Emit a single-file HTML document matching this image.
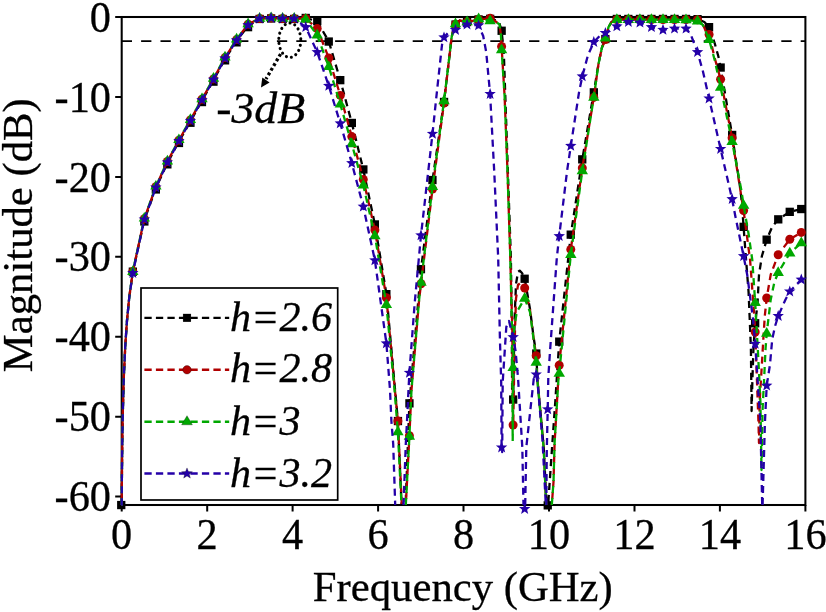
<!DOCTYPE html>
<html lang="en"><head><meta charset="utf-8"><title>Magnitude vs Frequency</title>
<style>html,body{margin:0;padding:0;background:#fff;}body{width:826px;height:612px;overflow:hidden;}svg{display:block;}</style>
</head><body>
<svg width="826" height="612" viewBox="0 0 826 612">
<rect width="826" height="612" fill="#ffffff"/>
<line x1="121.7" y1="41.2" x2="805.4" y2="41.2" stroke="#000" stroke-width="1.7" stroke-dasharray="10.3 9.1"/>
<rect x="121.7" y="17.0" width="683.7" height="488.0" fill="none" stroke="#000" stroke-width="2.05"/>
<path d="M121.7 505.0 v6.5 M207.2 505.0 v6.5 M292.6 505.0 v6.5 M378.1 505.0 v6.5 M463.5 505.0 v6.5 M549.0 505.0 v6.5 M634.5 505.0 v6.5 M719.9 505.0 v6.5 M805.4 505.0 v6.5 M121.7 17.0 h-6.5 M121.7 96.9 h-6.5 M121.7 176.9 h-6.5 M121.7 256.8 h-6.5 M121.7 336.7 h-6.5 M121.7 416.7 h-6.5 M121.7 496.6 h-6.5" stroke="#000" stroke-width="2" fill="none"/>
<defs><clipPath id="cp"><rect x="115.7" y="10.0" width="696.7" height="505.0"/></clipPath></defs>
<g clip-path="url(#cp)">
<path d="M121.3 505.0 L121.7 504.9 L121.9 476.8 L122.3 441.3 L122.8 413.2 L123.8 377.7 L125.3 345.1 L127.0 320.5 L129.3 296.9 L132.8 272.2 L144.3 220.1 L155.9 188.1 L167.4 162.9 L178.9 141.6 L190.4 121.4 L202.0 100.7 L213.5 80.3 L225.0 59.0 L236.6 41.0 L248.1 25.7 L259.6 19.0 L271.1 18.5 L282.6 19.0 L294.2 19.0 L305.7 18.0 L317.2 21.2 L328.8 41.5 L340.3 80.2 L351.8 122.9 L363.3 169.5 L374.9 224.5 L386.4 294.1 L397.9 421.0 L401.6 505.0 M405.6 505.0 L409.4 403.4 L421.0 269.1 L432.5 180.1 L444.0 102.0 L449.4 56.5 L451.6 37.4 L454.0 27.0 L455.5 24.5 L459.7 20.5 L467.1 22.0 L478.6 19.5 L490.1 18.8 L495.0 20.0 L499.4 23.0 L501.6 30.8 L503.8 52.0 L505.3 96.0 L508.1 178.0 L510.9 258.0 L511.8 330.0 L512.2 405.0 L513.1 399.5 L514.6 319.0 L516.0 284.0 L518.0 272.0 L519.7 270.6 L522.0 273.0 L524.7 278.7 L530.0 309.0 L533.7 338.0 L536.2 353.5 L537.6 381.0 L543.7 447.3 L546.6 505.0 L547.7 505.3 M548.2 505.0 L548.6 498.0 L552.3 444.0 L555.4 400.0 L559.2 341.6 L570.8 234.7 L582.3 159.4 L593.8 92.4 L598.5 63.9 L601.9 47.7 L605.4 39.0 L608.5 27.1 L611.5 22.0 L616.9 19.0 L628.4 19.0 L639.9 19.0 L651.4 19.0 L663.0 19.0 L674.5 19.0 L686.0 19.0 L697.5 19.2 L704.4 22.0 L709.1 27.1 L714.7 43.3 L718.4 56.5 L720.6 67.6 L732.1 135.0 L740.5 190.0 L742.0 204.7 L743.6 226.8 L745.7 255.0 L748.6 292.4 L750.0 326.0 L750.9 348.0 L751.6 411.0 L752.4 380.0 L753.5 348.0 L755.2 323.2 L757.5 304.0 L759.0 274.7 L761.9 256.0 L766.7 239.7 L772.2 226.8 L778.2 219.4 L789.8 211.8 L801.3 209.1" fill="none" stroke="#000000" stroke-width="2.3" stroke-dasharray="7.1 4.9" stroke-dashoffset="9" stroke-linejoin="round"/>
<rect x="117.1" y="500.9" width="8.3" height="8.3" fill="#000000"/>
<rect x="128.7" y="267.5" width="8.3" height="8.3" fill="#000000"/>
<rect x="140.2" y="217.3" width="8.3" height="8.3" fill="#000000"/>
<rect x="151.7" y="185.3" width="8.3" height="8.3" fill="#000000"/>
<rect x="163.2" y="160.2" width="8.3" height="8.3" fill="#000000"/>
<rect x="174.8" y="138.8" width="8.3" height="8.3" fill="#000000"/>
<rect x="186.3" y="118.6" width="8.3" height="8.3" fill="#000000"/>
<rect x="197.8" y="97.9" width="8.3" height="8.3" fill="#000000"/>
<rect x="209.3" y="77.5" width="8.3" height="8.3" fill="#000000"/>
<rect x="220.9" y="56.2" width="8.3" height="8.3" fill="#000000"/>
<rect x="232.4" y="38.2" width="8.3" height="8.3" fill="#000000"/>
<rect x="243.9" y="23.0" width="8.3" height="8.3" fill="#000000"/>
<rect x="255.5" y="14.8" width="8.3" height="8.3" fill="#000000"/>
<rect x="267.0" y="14.3" width="8.3" height="8.3" fill="#000000"/>
<rect x="278.5" y="14.8" width="8.3" height="8.3" fill="#000000"/>
<rect x="290.0" y="14.8" width="8.3" height="8.3" fill="#000000"/>
<rect x="301.6" y="13.8" width="8.3" height="8.3" fill="#000000"/>
<rect x="313.1" y="17.0" width="8.3" height="8.3" fill="#000000"/>
<rect x="324.6" y="37.4" width="8.3" height="8.3" fill="#000000"/>
<rect x="336.1" y="76.0" width="8.3" height="8.3" fill="#000000"/>
<rect x="347.7" y="118.8" width="8.3" height="8.3" fill="#000000"/>
<rect x="359.2" y="165.3" width="8.3" height="8.3" fill="#000000"/>
<rect x="370.7" y="220.3" width="8.3" height="8.3" fill="#000000"/>
<rect x="382.2" y="290.0" width="8.3" height="8.3" fill="#000000"/>
<rect x="393.8" y="416.9" width="8.3" height="8.3" fill="#000000"/>
<rect x="405.3" y="399.2" width="8.3" height="8.3" fill="#000000"/>
<rect x="416.8" y="265.0" width="8.3" height="8.3" fill="#000000"/>
<rect x="428.3" y="175.9" width="8.3" height="8.3" fill="#000000"/>
<rect x="439.9" y="97.8" width="8.3" height="8.3" fill="#000000"/>
<rect x="451.4" y="20.4" width="8.3" height="8.3" fill="#000000"/>
<rect x="462.9" y="17.9" width="8.3" height="8.3" fill="#000000"/>
<rect x="474.4" y="15.3" width="8.3" height="8.3" fill="#000000"/>
<rect x="486.0" y="14.7" width="8.3" height="8.3" fill="#000000"/>
<rect x="497.5" y="26.6" width="8.3" height="8.3" fill="#000000"/>
<rect x="509.0" y="395.4" width="8.3" height="8.3" fill="#000000"/>
<rect x="520.5" y="274.6" width="8.3" height="8.3" fill="#000000"/>
<rect x="532.1" y="349.4" width="8.3" height="8.3" fill="#000000"/>
<rect x="543.6" y="501.2" width="8.3" height="8.3" fill="#000000"/>
<rect x="555.1" y="337.5" width="8.3" height="8.3" fill="#000000"/>
<rect x="566.6" y="230.5" width="8.3" height="8.3" fill="#000000"/>
<rect x="578.1" y="155.2" width="8.3" height="8.3" fill="#000000"/>
<rect x="589.7" y="88.2" width="8.3" height="8.3" fill="#000000"/>
<rect x="601.2" y="34.9" width="8.3" height="8.3" fill="#000000"/>
<rect x="612.7" y="14.8" width="8.3" height="8.3" fill="#000000"/>
<rect x="624.2" y="14.8" width="8.3" height="8.3" fill="#000000"/>
<rect x="635.8" y="14.8" width="8.3" height="8.3" fill="#000000"/>
<rect x="647.3" y="14.8" width="8.3" height="8.3" fill="#000000"/>
<rect x="658.8" y="14.8" width="8.3" height="8.3" fill="#000000"/>
<rect x="670.4" y="14.8" width="8.3" height="8.3" fill="#000000"/>
<rect x="681.9" y="14.8" width="8.3" height="8.3" fill="#000000"/>
<rect x="693.4" y="15.0" width="8.3" height="8.3" fill="#000000"/>
<rect x="704.9" y="23.0" width="8.3" height="8.3" fill="#000000"/>
<rect x="716.5" y="63.4" width="8.3" height="8.3" fill="#000000"/>
<rect x="728.0" y="130.8" width="8.3" height="8.3" fill="#000000"/>
<rect x="739.5" y="222.7" width="8.3" height="8.3" fill="#000000"/>
<rect x="751.0" y="319.1" width="8.3" height="8.3" fill="#000000"/>
<rect x="762.5" y="235.5" width="8.3" height="8.3" fill="#000000"/>
<rect x="774.1" y="215.2" width="8.3" height="8.3" fill="#000000"/>
<rect x="785.6" y="207.7" width="8.3" height="8.3" fill="#000000"/>
<rect x="797.1" y="204.9" width="8.3" height="8.3" fill="#000000"/>
</g>
<g clip-path="url(#cp)">
<path d="M121.3 505.0 L121.7 504.9 L121.9 476.8 L122.3 441.3 L122.8 413.2 L123.8 377.7 L125.3 345.1 L127.0 320.5 L129.3 296.9 L132.8 271.6 L144.3 218.7 L155.9 186.7 L167.4 161.5 L178.9 140.2 L190.4 120.0 L202.0 99.3 L213.5 78.9 L225.0 57.6 L236.6 39.6 L248.1 24.3 L259.6 18.5 L271.1 18.0 L282.6 18.5 L294.2 18.5 L305.7 18.5 L317.2 28.6 L328.8 58.0 L340.3 95.4 L351.8 136.6 L363.3 179.4 L374.9 230.1 L386.4 297.8 L394.9 389.7 L397.9 421.0 L401.8 505.0 M405.8 505.0 L409.4 435.7 L411.5 389.7 L419.1 300.0 L421.0 283.8 L432.5 189.0 L444.0 103.0 L449.4 56.5 L451.6 37.4 L454.0 27.0 L455.5 24.5 L459.7 20.5 L467.1 22.0 L478.6 19.5 L490.1 18.3 L495.0 21.0 L499.4 24.2 L500.9 34.5 L501.6 46.5 L504.6 96.0 L507.5 171.5 L510.1 251.5 L512.3 329.0 L513.1 425.0 L513.2 428.0 L514.0 380.0 L515.0 330.0 L516.0 298.5 L518.0 285.0 L520.5 283.0 L524.7 288.0 L530.0 310.0 L533.7 339.0 L536.2 355.7 L537.6 381.0 L543.7 447.3 L546.2 505.0 M551.8 505.0 L553.5 482.0 L554.6 443.0 L558.4 377.5 L559.2 365.3 L570.8 249.4 L582.3 168.0 L593.8 97.4 L598.5 63.9 L601.9 47.7 L605.4 39.5 L608.5 27.1 L611.5 22.0 L616.9 19.5 L628.4 19.5 L639.9 19.5 L651.4 19.5 L663.0 19.5 L674.5 19.5 L686.0 19.5 L697.5 19.8 L702.9 24.2 L705.9 31.5 L709.1 34.5 L714.7 58.0 L720.6 79.3 L732.1 138.0 L743.6 210.6 L750.1 260.0 L754.5 318.8 L755.2 332.0 L758.5 423.0 L759.0 443.0 L759.7 401.0 L761.9 364.0 L763.4 338.0 L764.8 316.0 L766.7 298.0 L770.7 274.7 L778.2 254.7 L789.8 239.3 L801.3 232.4" fill="none" stroke="#B00000" stroke-width="2.3" stroke-dasharray="7.1 4.9" stroke-dashoffset="6" stroke-linejoin="round"/>
<circle cx="132.8" cy="271.6" r="4.50" fill="#B00000"/>
<circle cx="144.3" cy="218.7" r="4.50" fill="#B00000"/>
<circle cx="155.9" cy="186.7" r="4.50" fill="#B00000"/>
<circle cx="167.4" cy="161.5" r="4.50" fill="#B00000"/>
<circle cx="178.9" cy="140.2" r="4.50" fill="#B00000"/>
<circle cx="190.4" cy="120.0" r="4.50" fill="#B00000"/>
<circle cx="202.0" cy="99.3" r="4.50" fill="#B00000"/>
<circle cx="213.5" cy="78.9" r="4.50" fill="#B00000"/>
<circle cx="225.0" cy="57.6" r="4.50" fill="#B00000"/>
<circle cx="236.6" cy="39.6" r="4.50" fill="#B00000"/>
<circle cx="248.1" cy="24.3" r="4.50" fill="#B00000"/>
<circle cx="259.6" cy="18.5" r="4.50" fill="#B00000"/>
<circle cx="271.1" cy="18.0" r="4.50" fill="#B00000"/>
<circle cx="282.6" cy="18.5" r="4.50" fill="#B00000"/>
<circle cx="294.2" cy="18.5" r="4.50" fill="#B00000"/>
<circle cx="305.7" cy="18.5" r="4.50" fill="#B00000"/>
<circle cx="317.2" cy="28.6" r="4.50" fill="#B00000"/>
<circle cx="328.8" cy="58.0" r="4.50" fill="#B00000"/>
<circle cx="340.3" cy="95.4" r="4.50" fill="#B00000"/>
<circle cx="351.8" cy="136.6" r="4.50" fill="#B00000"/>
<circle cx="363.3" cy="179.4" r="4.50" fill="#B00000"/>
<circle cx="374.9" cy="230.1" r="4.50" fill="#B00000"/>
<circle cx="386.4" cy="297.8" r="4.50" fill="#B00000"/>
<circle cx="397.9" cy="421.0" r="4.50" fill="#B00000"/>
<circle cx="409.4" cy="435.7" r="4.50" fill="#B00000"/>
<circle cx="421.0" cy="283.8" r="4.50" fill="#B00000"/>
<circle cx="432.5" cy="189.0" r="4.50" fill="#B00000"/>
<circle cx="444.0" cy="103.0" r="4.50" fill="#B00000"/>
<circle cx="455.5" cy="24.5" r="4.50" fill="#B00000"/>
<circle cx="467.1" cy="22.0" r="4.50" fill="#B00000"/>
<circle cx="478.6" cy="19.5" r="4.50" fill="#B00000"/>
<circle cx="490.1" cy="18.3" r="4.50" fill="#B00000"/>
<circle cx="501.6" cy="46.5" r="4.50" fill="#B00000"/>
<circle cx="513.1" cy="425.0" r="4.50" fill="#B00000"/>
<circle cx="524.7" cy="288.0" r="4.50" fill="#B00000"/>
<circle cx="536.2" cy="355.7" r="4.50" fill="#B00000"/>
<circle cx="559.2" cy="365.3" r="4.50" fill="#B00000"/>
<circle cx="570.8" cy="249.4" r="4.50" fill="#B00000"/>
<circle cx="582.3" cy="168.0" r="4.50" fill="#B00000"/>
<circle cx="593.8" cy="97.4" r="4.50" fill="#B00000"/>
<circle cx="605.4" cy="39.5" r="4.50" fill="#B00000"/>
<circle cx="616.9" cy="19.5" r="4.50" fill="#B00000"/>
<circle cx="628.4" cy="19.5" r="4.50" fill="#B00000"/>
<circle cx="639.9" cy="19.5" r="4.50" fill="#B00000"/>
<circle cx="651.4" cy="19.5" r="4.50" fill="#B00000"/>
<circle cx="663.0" cy="19.5" r="4.50" fill="#B00000"/>
<circle cx="674.5" cy="19.5" r="4.50" fill="#B00000"/>
<circle cx="686.0" cy="19.5" r="4.50" fill="#B00000"/>
<circle cx="697.5" cy="19.8" r="4.50" fill="#B00000"/>
<circle cx="709.1" cy="34.5" r="4.50" fill="#B00000"/>
<circle cx="720.6" cy="79.3" r="4.50" fill="#B00000"/>
<circle cx="732.1" cy="138.0" r="4.50" fill="#B00000"/>
<circle cx="743.6" cy="210.6" r="4.50" fill="#B00000"/>
<circle cx="755.2" cy="332.0" r="4.50" fill="#B00000"/>
<circle cx="766.7" cy="298.0" r="4.50" fill="#B00000"/>
<circle cx="778.2" cy="254.7" r="4.50" fill="#B00000"/>
<circle cx="789.8" cy="239.3" r="4.50" fill="#B00000"/>
<circle cx="801.3" cy="232.4" r="4.50" fill="#B00000"/>
</g>
<g clip-path="url(#cp)">
<path d="M121.3 505.0 L121.7 504.9 L121.9 476.8 L122.3 441.3 L122.8 413.2 L123.8 377.7 L125.3 345.1 L127.0 320.5 L129.3 296.9 L132.8 271.6 L144.3 218.3 L155.9 186.3 L167.4 161.1 L178.9 139.8 L190.4 119.6 L202.0 98.9 L213.5 78.5 L225.0 57.2 L236.6 39.2 L248.1 23.9 L259.6 18.5 L271.1 18.0 L282.6 18.5 L294.2 18.5 L305.7 19.5 L317.2 35.2 L328.8 66.8 L340.3 104.3 L351.8 144.0 L363.3 185.3 L374.9 236.0 L386.4 304.8 L394.5 389.7 L397.9 432.0 L401.5 505.0 M405.8 505.0 L409.4 436.5 L411.5 389.7 L419.1 300.0 L421.0 282.4 L432.5 186.8 L444.0 101.0 L449.4 56.5 L451.6 37.4 L454.0 27.0 L455.5 23.9 L459.7 20.5 L467.1 22.0 L478.6 19.0 L490.1 21.0 L495.0 21.5 L499.4 24.2 L500.9 34.5 L501.6 49.9 L504.6 96.0 L507.5 171.5 L510.1 251.5 L512.0 329.0 L512.7 441.0 L513.1 400.0 L513.1 367.6 L514.0 329.0 L516.8 312.0 L524.7 298.5 L530.0 312.0 L533.7 340.0 L536.2 362.4 L537.6 383.0 L543.7 448.0 L546.2 505.0 M551.8 505.0 L553.5 482.0 L554.6 443.0 L558.4 380.0 L559.2 373.4 L570.8 254.6 L582.3 170.9 L593.8 97.4 L598.5 63.9 L601.9 47.7 L605.4 38.1 L608.5 27.1 L611.5 22.0 L616.9 19.6 L628.4 19.6 L639.9 19.6 L651.4 19.6 L663.0 19.6 L674.5 19.6 L686.0 19.9 L697.5 21.2 L702.9 25.0 L705.9 32.0 L709.1 39.6 L714.7 60.0 L720.6 87.4 L732.1 141.6 L741.3 190.0 L743.6 205.4 L748.6 234.0 L752.3 260.0 L753.5 278.0 L755.2 302.6 L756.9 333.5 L758.0 352.6 L760.4 401.0 L761.5 470.0 L762.6 408.5 L764.1 379.0 L765.6 348.0 L766.7 333.5 L770.7 299.7 L774.4 282.0 L778.2 272.7 L789.8 253.2 L801.3 243.0" fill="none" stroke="#00A800" stroke-width="2.3" stroke-dasharray="7.1 4.9" stroke-dashoffset="0" stroke-linejoin="round"/>
<polygon points="132.8,265.2 127.1,274.9 138.5,274.9" fill="#00A800"/>
<polygon points="144.3,211.9 138.7,221.6 150.0,221.6" fill="#00A800"/>
<polygon points="155.9,179.9 150.2,189.6 161.6,189.6" fill="#00A800"/>
<polygon points="167.4,154.7 161.7,164.4 173.1,164.4" fill="#00A800"/>
<polygon points="178.9,133.4 173.2,143.1 184.6,143.1" fill="#00A800"/>
<polygon points="190.4,113.2 184.8,122.9 196.1,122.9" fill="#00A800"/>
<polygon points="202.0,92.5 196.3,102.2 207.7,102.2" fill="#00A800"/>
<polygon points="213.5,72.1 207.8,81.8 219.2,81.8" fill="#00A800"/>
<polygon points="225.0,50.8 219.3,60.5 230.7,60.5" fill="#00A800"/>
<polygon points="236.6,32.8 230.9,42.5 242.2,42.5" fill="#00A800"/>
<polygon points="248.1,17.5 242.4,27.2 253.8,27.2" fill="#00A800"/>
<polygon points="259.6,12.1 253.9,21.8 265.3,21.8" fill="#00A800"/>
<polygon points="271.1,11.6 265.4,21.3 276.8,21.3" fill="#00A800"/>
<polygon points="282.6,12.1 276.9,21.8 288.3,21.8" fill="#00A800"/>
<polygon points="294.2,12.1 288.5,21.8 299.9,21.8" fill="#00A800"/>
<polygon points="305.7,13.1 300.0,22.8 311.4,22.8" fill="#00A800"/>
<polygon points="317.2,28.8 311.5,38.5 322.9,38.5" fill="#00A800"/>
<polygon points="328.8,60.4 323.1,70.1 334.4,70.1" fill="#00A800"/>
<polygon points="340.3,97.9 334.6,107.6 346.0,107.6" fill="#00A800"/>
<polygon points="351.8,137.6 346.1,147.3 357.5,147.3" fill="#00A800"/>
<polygon points="363.3,178.9 357.6,188.6 369.0,188.6" fill="#00A800"/>
<polygon points="374.9,229.6 369.2,239.3 380.6,239.3" fill="#00A800"/>
<polygon points="386.4,298.4 380.7,308.1 392.1,308.1" fill="#00A800"/>
<polygon points="397.9,425.6 392.2,435.3 403.6,435.3" fill="#00A800"/>
<polygon points="409.4,430.1 403.7,439.8 415.1,439.8" fill="#00A800"/>
<polygon points="421.0,276.0 415.3,285.7 426.7,285.7" fill="#00A800"/>
<polygon points="432.5,180.4 426.8,190.1 438.2,190.1" fill="#00A800"/>
<polygon points="444.0,94.6 438.3,104.3 449.7,104.3" fill="#00A800"/>
<polygon points="455.5,17.5 449.8,27.2 461.2,27.2" fill="#00A800"/>
<polygon points="467.1,15.6 461.4,25.3 472.8,25.3" fill="#00A800"/>
<polygon points="478.6,12.6 472.9,22.3 484.3,22.3" fill="#00A800"/>
<polygon points="490.1,14.6 484.4,24.3 495.8,24.3" fill="#00A800"/>
<polygon points="501.6,43.5 495.9,53.2 507.3,53.2" fill="#00A800"/>
<polygon points="513.1,361.2 507.4,370.9 518.9,370.9" fill="#00A800"/>
<polygon points="524.7,292.1 519.0,301.8 530.4,301.8" fill="#00A800"/>
<polygon points="536.2,356.0 530.5,365.7 541.9,365.7" fill="#00A800"/>
<polygon points="559.2,367.0 553.5,376.7 565.0,376.7" fill="#00A800"/>
<polygon points="570.8,248.2 565.1,257.9 576.5,257.9" fill="#00A800"/>
<polygon points="582.3,164.5 576.6,174.2 588.0,174.2" fill="#00A800"/>
<polygon points="593.8,91.0 588.1,100.7 599.5,100.7" fill="#00A800"/>
<polygon points="605.4,31.7 599.6,41.4 611.1,41.4" fill="#00A800"/>
<polygon points="616.9,13.2 611.2,22.9 622.6,22.9" fill="#00A800"/>
<polygon points="628.4,13.2 622.7,22.9 634.1,22.9" fill="#00A800"/>
<polygon points="639.9,13.2 634.2,22.9 645.6,22.9" fill="#00A800"/>
<polygon points="651.4,13.2 645.7,22.9 657.1,22.9" fill="#00A800"/>
<polygon points="663.0,13.2 657.3,22.9 668.7,22.9" fill="#00A800"/>
<polygon points="674.5,13.2 668.8,22.9 680.2,22.9" fill="#00A800"/>
<polygon points="686.0,13.5 680.3,23.2 691.7,23.2" fill="#00A800"/>
<polygon points="697.5,14.8 691.8,24.5 703.2,24.5" fill="#00A800"/>
<polygon points="709.1,33.2 703.4,42.9 714.8,42.9" fill="#00A800"/>
<polygon points="720.6,81.0 714.9,90.7 726.3,90.7" fill="#00A800"/>
<polygon points="732.1,135.2 726.4,144.9 737.8,144.9" fill="#00A800"/>
<polygon points="743.6,199.0 737.9,208.7 749.4,208.7" fill="#00A800"/>
<polygon points="755.2,296.2 749.5,305.9 760.9,305.9" fill="#00A800"/>
<polygon points="766.7,327.1 761.0,336.8 772.4,336.8" fill="#00A800"/>
<polygon points="778.2,266.3 772.5,276.0 783.9,276.0" fill="#00A800"/>
<polygon points="789.8,246.8 784.0,256.5 795.5,256.5" fill="#00A800"/>
<polygon points="801.3,236.6 795.6,246.3 807.0,246.3" fill="#00A800"/>
</g>
<g clip-path="url(#cp)">
<path d="M121.3 505.0 L121.7 504.9 L121.9 476.8 L122.3 441.3 L122.8 413.2 L123.8 377.7 L125.3 345.1 L127.0 320.5 L129.3 296.9 L132.8 273.0 L144.3 219.5 L155.9 187.5 L167.4 162.3 L178.9 141.0 L190.4 120.8 L202.0 100.1 L213.5 79.7 L225.0 58.4 L236.6 40.4 L248.1 25.1 L259.6 18.5 L271.1 18.0 L282.6 18.5 L294.2 18.5 L305.7 27.1 L317.2 52.1 L328.8 85.9 L340.3 123.4 L351.8 163.1 L363.3 206.6 L374.9 260.3 L386.4 343.4 L390.0 389.7 L391.4 421.0 L393.2 444.0 L395.2 505.0 M403.5 505.0 L405.8 444.0 L407.0 421.0 L408.5 389.7 L409.4 372.8 L414.7 303.0 L421.0 235.3 L432.5 133.8 L436.9 91.8 L442.0 44.8 L444.0 37.4 L449.4 31.5 L455.5 30.0 L467.1 24.5 L478.6 25.4 L483.2 36.0 L486.2 52.0 L490.1 94.0 L494.3 173.0 L498.2 258.0 L499.9 338.0 L501.2 382.0 L501.6 447.5 L502.2 452.0 L502.7 382.0 L506.3 327.0 L509.0 321.0 L513.1 337.2 L515.5 350.4 L518.0 377.5 L522.3 447.3 L523.5 505.0 M525.2 505.0 L526.3 447.3 L533.9 377.5 L536.2 374.5 L537.6 383.0 L542.5 440.0 L545.8 505.0 M546.3 505.0 L546.8 450.0 L547.7 409.3 L548.3 377.5 L550.1 350.0 L556.8 258.0 L559.2 236.2 L567.0 171.5 L570.8 145.9 L579.1 91.8 L582.3 76.4 L588.0 55.0 L593.8 42.1 L599.7 36.0 L605.4 33.0 L616.9 26.4 L628.4 22.0 L639.9 22.7 L651.4 27.1 L663.0 29.8 L674.5 28.6 L686.0 28.6 L690.4 33.7 L697.5 52.1 L702.9 71.2 L709.1 98.5 L720.6 149.0 L732.1 199.1 L735.4 216.5 L743.6 256.2 L747.2 274.7 L750.1 296.8 L753.0 318.8 L755.2 343.8 L758.5 393.8 L760.4 423.0 L762.2 505.0 M762.6 505.0 L764.9 423.0 L766.7 385.7 L770.0 364.4 L772.2 339.4 L775.1 326.0 L778.2 316.0 L785.4 299.7 L789.8 291.5 L801.3 279.6" fill="none" stroke="#2400A8" stroke-width="2.3" stroke-dasharray="7.1 4.9" stroke-dashoffset="0" stroke-linejoin="round"/>
<polygon points="132.8,267.0 134.3,270.9 138.5,271.1 135.3,273.8 136.4,277.9 132.8,275.6 129.3,277.9 130.4,273.8 127.1,271.1 131.3,270.9" fill="#2400A8"/>
<polygon points="144.3,213.5 145.8,217.4 150.1,217.6 146.8,220.3 147.9,224.4 144.3,222.1 140.8,224.4 141.9,220.3 138.6,217.6 142.9,217.4" fill="#2400A8"/>
<polygon points="155.9,181.5 157.4,185.4 161.6,185.6 158.3,188.3 159.4,192.4 155.9,190.1 152.3,192.4 153.4,188.3 150.2,185.6 154.4,185.4" fill="#2400A8"/>
<polygon points="167.4,156.3 168.9,160.2 173.1,160.4 169.8,163.1 170.9,167.2 167.4,164.9 163.9,167.2 165.0,163.1 161.7,160.4 165.9,160.2" fill="#2400A8"/>
<polygon points="178.9,135.0 180.4,138.9 184.6,139.1 181.4,141.8 182.5,145.9 178.9,143.6 175.4,145.9 176.5,141.8 173.2,139.1 177.4,138.9" fill="#2400A8"/>
<polygon points="190.4,114.8 191.9,118.7 196.2,118.9 192.9,121.6 194.0,125.7 190.4,123.3 186.9,125.7 188.0,121.6 184.7,118.9 189.0,118.7" fill="#2400A8"/>
<polygon points="202.0,94.1 203.5,98.0 207.7,98.2 204.4,100.9 205.5,105.0 202.0,102.6 198.4,105.0 199.5,100.9 196.3,98.2 200.5,98.0" fill="#2400A8"/>
<polygon points="213.5,73.7 215.0,77.6 219.2,77.8 215.9,80.5 217.0,84.6 213.5,82.2 210.0,84.6 211.1,80.5 207.8,77.8 212.0,77.6" fill="#2400A8"/>
<polygon points="225.0,52.4 226.5,56.3 230.7,56.5 227.5,59.2 228.6,63.3 225.0,60.9 221.5,63.3 222.6,59.2 219.3,56.5 223.5,56.3" fill="#2400A8"/>
<polygon points="236.6,34.4 238.0,38.3 242.3,38.5 239.0,41.2 240.1,45.3 236.6,42.9 233.0,45.3 234.1,41.2 230.8,38.5 235.1,38.3" fill="#2400A8"/>
<polygon points="248.1,19.1 249.6,23.0 253.8,23.2 250.5,25.9 251.6,30.0 248.1,27.7 244.5,30.0 245.6,25.9 242.4,23.2 246.6,23.0" fill="#2400A8"/>
<polygon points="259.6,12.5 261.1,16.4 265.3,16.6 262.0,19.3 263.1,23.4 259.6,21.1 256.1,23.4 257.2,19.3 253.9,16.6 258.1,16.4" fill="#2400A8"/>
<polygon points="271.1,12.0 272.6,15.9 276.8,16.1 273.6,18.8 274.7,22.9 271.1,20.6 267.6,22.9 268.7,18.8 265.4,16.1 269.6,15.9" fill="#2400A8"/>
<polygon points="282.6,12.5 284.1,16.4 288.4,16.6 285.1,19.3 286.2,23.4 282.6,21.1 279.1,23.4 280.2,19.3 276.9,16.6 281.2,16.4" fill="#2400A8"/>
<polygon points="294.2,12.5 295.7,16.4 299.9,16.6 296.6,19.3 297.7,23.4 294.2,21.1 290.6,23.4 291.7,19.3 288.5,16.6 292.7,16.4" fill="#2400A8"/>
<polygon points="305.7,21.1 307.2,25.0 311.4,25.2 308.1,27.9 309.2,32.0 305.7,29.7 302.2,32.0 303.3,27.9 300.0,25.2 304.2,25.0" fill="#2400A8"/>
<polygon points="317.2,46.1 318.7,50.0 322.9,50.2 319.7,52.9 320.8,57.0 317.2,54.6 313.7,57.0 314.8,52.9 311.5,50.2 315.7,50.0" fill="#2400A8"/>
<polygon points="328.8,79.9 330.2,83.8 334.5,84.0 331.2,86.7 332.3,90.8 328.8,88.5 325.2,90.8 326.3,86.7 323.0,84.0 327.3,83.8" fill="#2400A8"/>
<polygon points="340.3,117.4 341.8,121.3 346.0,121.5 342.7,124.2 343.8,128.3 340.3,126.0 336.7,128.3 337.8,124.2 334.6,121.5 338.8,121.3" fill="#2400A8"/>
<polygon points="351.8,157.1 353.3,161.0 357.5,161.2 354.2,163.9 355.3,168.0 351.8,165.7 348.3,168.0 349.4,163.9 346.1,161.2 350.3,161.0" fill="#2400A8"/>
<polygon points="363.3,200.6 364.8,204.5 369.0,204.7 365.8,207.4 366.9,211.5 363.3,209.2 359.8,211.5 360.9,207.4 357.6,204.7 361.8,204.5" fill="#2400A8"/>
<polygon points="374.9,254.3 376.3,258.2 380.6,258.4 377.3,261.1 378.4,265.2 374.9,262.9 371.3,265.2 372.4,261.1 369.1,258.4 373.4,258.2" fill="#2400A8"/>
<polygon points="386.4,337.4 387.9,341.3 392.1,341.5 388.8,344.2 389.9,348.3 386.4,345.9 382.8,348.3 383.9,344.2 380.7,341.5 384.9,341.3" fill="#2400A8"/>
<polygon points="409.4,366.8 410.9,370.7 415.1,370.9 411.9,373.6 413.0,377.7 409.4,375.4 405.9,377.7 407.0,373.6 403.7,370.9 407.9,370.7" fill="#2400A8"/>
<polygon points="421.0,229.3 422.4,233.2 426.7,233.4 423.4,236.1 424.5,240.2 421.0,237.9 417.4,240.2 418.5,236.1 415.2,233.4 419.5,233.2" fill="#2400A8"/>
<polygon points="432.5,127.8 434.0,131.7 438.2,131.9 434.9,134.6 436.0,138.7 432.5,136.4 428.9,138.7 430.0,134.6 426.8,131.9 431.0,131.7" fill="#2400A8"/>
<polygon points="444.0,31.4 445.5,35.3 449.7,35.5 446.4,38.2 447.5,42.3 444.0,39.9 440.5,42.3 441.6,38.2 438.3,35.5 442.5,35.3" fill="#2400A8"/>
<polygon points="455.5,24.0 457.0,27.9 461.2,28.1 458.0,30.8 459.1,34.9 455.5,32.5 452.0,34.9 453.1,30.8 449.8,28.1 454.0,27.9" fill="#2400A8"/>
<polygon points="467.1,18.5 468.5,22.4 472.8,22.6 469.5,25.3 470.6,29.4 467.1,27.1 463.5,29.4 464.6,25.3 461.3,22.6 465.6,22.4" fill="#2400A8"/>
<polygon points="478.6,19.4 480.1,23.3 484.3,23.5 481.0,26.2 482.1,30.3 478.6,27.9 475.0,30.3 476.1,26.2 472.9,23.5 477.1,23.3" fill="#2400A8"/>
<polygon points="490.1,88.0 491.6,91.9 495.8,92.1 492.5,94.8 493.6,98.9 490.1,96.5 486.6,98.9 487.7,94.8 484.4,92.1 488.6,91.9" fill="#2400A8"/>
<polygon points="501.6,441.5 503.1,445.4 507.3,445.6 504.1,448.3 505.2,452.4 501.6,450.1 498.1,452.4 499.2,448.3 495.9,445.6 500.1,445.4" fill="#2400A8"/>
<polygon points="513.1,331.2 514.6,335.1 518.9,335.3 515.6,338.0 516.7,342.1 513.1,339.8 509.6,342.1 510.7,338.0 507.4,335.3 511.7,335.1" fill="#2400A8"/>
<polygon points="524.7,503.0 526.2,506.9 530.4,507.1 527.1,509.8 528.2,513.9 524.7,511.6 521.1,513.9 522.2,509.8 519.0,507.1 523.2,506.9" fill="#2400A8"/>
<polygon points="536.2,368.5 537.7,372.4 541.9,372.6 538.6,375.3 539.7,379.4 536.2,377.1 532.7,379.4 533.8,375.3 530.5,372.6 534.7,372.4" fill="#2400A8"/>
<polygon points="547.7,403.3 549.2,407.2 553.4,407.4 550.2,410.1 551.3,414.2 547.7,411.9 544.2,414.2 545.3,410.1 542.0,407.4 546.2,407.2" fill="#2400A8"/>
<polygon points="559.2,230.2 560.7,234.1 565.0,234.3 561.7,237.0 562.8,241.1 559.2,238.8 555.7,241.1 556.8,237.0 553.5,234.3 557.8,234.1" fill="#2400A8"/>
<polygon points="570.8,139.9 572.3,143.8 576.5,144.0 573.2,146.7 574.3,150.8 570.8,148.5 567.2,150.8 568.3,146.7 565.1,144.0 569.3,143.8" fill="#2400A8"/>
<polygon points="582.3,70.4 583.8,74.3 588.0,74.5 584.7,77.2 585.8,81.3 582.3,79.0 578.8,81.3 579.9,77.2 576.6,74.5 580.8,74.3" fill="#2400A8"/>
<polygon points="593.8,36.1 595.3,40.0 599.5,40.2 596.3,42.9 597.4,47.0 593.8,44.6 590.3,47.0 591.4,42.9 588.1,40.2 592.3,40.0" fill="#2400A8"/>
<polygon points="605.4,27.0 606.8,30.9 611.1,31.1 607.8,33.8 608.9,37.9 605.4,35.5 601.8,37.9 602.9,33.8 599.6,31.1 603.9,30.9" fill="#2400A8"/>
<polygon points="616.9,20.4 618.4,24.3 622.6,24.5 619.3,27.2 620.4,31.3 616.9,28.9 613.3,31.3 614.4,27.2 611.2,24.5 615.4,24.3" fill="#2400A8"/>
<polygon points="628.4,16.0 629.9,19.9 634.1,20.1 630.8,22.8 631.9,26.9 628.4,24.6 624.9,26.9 626.0,22.8 622.7,20.1 626.9,19.9" fill="#2400A8"/>
<polygon points="639.9,16.7 641.4,20.6 645.6,20.8 642.4,23.5 643.5,27.6 639.9,25.2 636.4,27.6 637.5,23.5 634.2,20.8 638.4,20.6" fill="#2400A8"/>
<polygon points="651.4,21.1 652.9,25.0 657.2,25.2 653.9,27.9 655.0,32.0 651.4,29.7 647.9,32.0 649.0,27.9 645.7,25.2 650.0,25.0" fill="#2400A8"/>
<polygon points="663.0,23.8 664.5,27.7 668.7,27.9 665.4,30.6 666.5,34.7 663.0,32.4 659.4,34.7 660.5,30.6 657.3,27.9 661.5,27.7" fill="#2400A8"/>
<polygon points="674.5,22.6 676.0,26.5 680.2,26.7 676.9,29.4 678.0,33.5 674.5,31.2 671.0,33.5 672.1,29.4 668.8,26.7 673.0,26.5" fill="#2400A8"/>
<polygon points="686.0,22.6 687.5,26.5 691.7,26.7 688.5,29.4 689.6,33.5 686.0,31.2 682.5,33.5 683.6,29.4 680.3,26.7 684.5,26.5" fill="#2400A8"/>
<polygon points="697.5,46.1 699.0,50.0 703.3,50.2 700.0,52.9 701.1,57.0 697.5,54.6 694.0,57.0 695.1,52.9 691.8,50.2 696.1,50.0" fill="#2400A8"/>
<polygon points="709.1,92.5 710.6,96.4 714.8,96.6 711.5,99.3 712.6,103.4 709.1,101.0 705.5,103.4 706.6,99.3 703.4,96.6 707.6,96.4" fill="#2400A8"/>
<polygon points="720.6,143.0 722.1,146.9 726.3,147.1 723.0,149.8 724.1,153.9 720.6,151.6 717.1,153.9 718.2,149.8 714.9,147.1 719.1,146.9" fill="#2400A8"/>
<polygon points="732.1,193.1 733.6,197.0 737.8,197.2 734.6,199.9 735.7,204.0 732.1,201.7 728.6,204.0 729.7,199.9 726.4,197.2 730.6,197.0" fill="#2400A8"/>
<polygon points="743.6,250.2 745.1,254.1 749.4,254.3 746.1,257.0 747.2,261.1 743.6,258.8 740.1,261.1 741.2,257.0 737.9,254.3 742.2,254.1" fill="#2400A8"/>
<polygon points="755.2,337.8 756.7,341.7 760.9,341.9 757.6,344.6 758.7,348.7 755.2,346.4 751.6,348.7 752.7,344.6 749.5,341.9 753.7,341.7" fill="#2400A8"/>
<polygon points="766.7,379.7 768.2,383.6 772.4,383.8 769.1,386.5 770.2,390.6 766.7,388.2 763.2,390.6 764.3,386.5 761.0,383.8 765.2,383.6" fill="#2400A8"/>
<polygon points="778.2,310.0 779.7,313.9 783.9,314.1 780.7,316.8 781.8,320.9 778.2,318.6 774.7,320.9 775.8,316.8 772.5,314.1 776.7,313.9" fill="#2400A8"/>
<polygon points="789.8,285.5 791.2,289.4 795.5,289.6 792.2,292.3 793.3,296.4 789.8,294.1 786.2,296.4 787.3,292.3 784.0,289.6 788.3,289.4" fill="#2400A8"/>
<polygon points="801.3,273.6 802.8,277.5 807.0,277.7 803.7,280.4 804.8,284.5 801.3,282.2 797.7,284.5 798.8,280.4 795.6,277.7 799.8,277.5" fill="#2400A8"/>
</g>
<g font-family="'Liberation Serif', 'Times New Roman', serif" font-size="44.6" fill="#000" stroke="#000" stroke-width="0.3">
<text transform="translate(121.7 549.4) scale(0.95 1)" text-anchor="middle">0</text>
<text transform="translate(207.2 549.4) scale(0.95 1)" text-anchor="middle">2</text>
<text transform="translate(292.6 549.4) scale(0.95 1)" text-anchor="middle">4</text>
<text transform="translate(378.1 549.4) scale(0.95 1)" text-anchor="middle">6</text>
<text transform="translate(463.5 549.4) scale(0.95 1)" text-anchor="middle">8</text>
<text transform="translate(549.0 549.4) scale(0.95 1)" text-anchor="middle">10</text>
<text transform="translate(634.5 549.4) scale(0.95 1)" text-anchor="middle">12</text>
<text transform="translate(719.9 549.4) scale(0.95 1)" text-anchor="middle">14</text>
<text transform="translate(805.4 549.4) scale(0.95 1)" text-anchor="middle">16</text>
<text transform="translate(111.0 31.6) scale(0.95 1)" text-anchor="end">0</text>
<text transform="translate(111.0 111.5) scale(0.95 1)" text-anchor="end">-10</text>
<text transform="translate(111.0 191.5) scale(0.95 1)" text-anchor="end">-20</text>
<text transform="translate(111.0 271.4) scale(0.95 1)" text-anchor="end">-30</text>
<text transform="translate(111.0 351.3) scale(0.95 1)" text-anchor="end">-40</text>
<text transform="translate(111.0 431.3) scale(0.95 1)" text-anchor="end">-50</text>
<text transform="translate(111.0 511.2) scale(0.95 1)" text-anchor="end">-60</text>
</g>
<g font-family="'Liberation Serif', 'Times New Roman', serif" font-size="42.7" fill="#000" stroke="#000" stroke-width="0.3">
<text x="462.8" y="600.6" text-anchor="middle">Frequency (GHz)</text>
<text transform="translate(31.8 235.2) rotate(-90)" text-anchor="middle">Magnitude (dB)</text>
<text transform="translate(216.2 123.3) scale(1.05 1)" font-size="43.6" font-style="italic">-3dB</text>
</g>
<ellipse cx="289.8" cy="40.2" rx="11" ry="17.2" fill="none" stroke="#000" stroke-width="3.1" stroke-dasharray="0.01 5.15" stroke-linecap="round"/>
<line x1="280.6" y1="54.0" x2="266" y2="79" stroke="#000" stroke-width="3.3" stroke-dasharray="2.9 2.5"/>
<polygon points="261,87.4 262.3,77.6 269.6,82.6" fill="#000"/>
<rect x="141" y="288" width="196.7" height="212" fill="#fff" stroke="#000" stroke-width="1.7"/>
<g font-family="'Liberation Serif', 'Times New Roman', serif" font-size="43.2" font-style="italic" fill="#000" stroke="#000" stroke-width="0.3">
<line x1="144.4" y1="317.9" x2="229.2" y2="317.9" stroke="#000000" stroke-width="2.4" stroke-dasharray="7.3 4.2"/>
<rect x="183.1" y="314.0" width="7.8" height="7.8" fill="#000000"/>
<text transform="translate(230.0 330.7) scale(0.975 1)">h=2.6</text>
<line x1="144.4" y1="369.8" x2="229.2" y2="369.8" stroke="#B00000" stroke-width="2.4" stroke-dasharray="7.3 4.2"/>
<circle cx="187.0" cy="369.8" r="4.23" fill="#B00000"/>
<text transform="translate(230.0 382.4) scale(0.975 1)">h=2.8</text>
<line x1="144.4" y1="421.7" x2="229.2" y2="421.7" stroke="#00A800" stroke-width="2.4" stroke-dasharray="7.3 4.2"/>
<polygon points="187.0,415.7 181.6,424.8 192.4,424.8" fill="#00A800"/>
<text transform="translate(230.0 434.6) scale(0.975 1)">h=3</text>
<line x1="144.4" y1="473.5" x2="229.2" y2="473.5" stroke="#2400A8" stroke-width="2.4" stroke-dasharray="7.3 4.2"/>
<polygon points="187.0,467.9 188.4,471.6 192.4,471.8 189.3,474.2 190.3,478.1 187.0,475.9 183.7,478.1 184.7,474.2 181.6,471.8 185.6,471.6" fill="#2400A8"/>
<text transform="translate(230.0 486.5) scale(0.975 1)">h=3.2</text>
</g>
</svg>
</body></html>
